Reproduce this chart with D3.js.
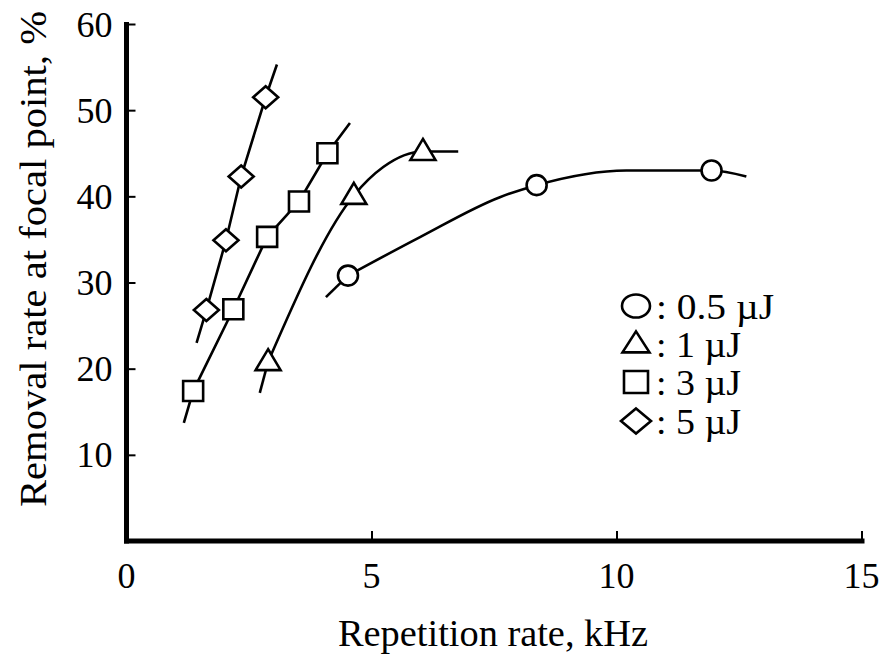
<!DOCTYPE html>
<html><head><meta charset="utf-8">
<script src="https://cdn.jsdelivr.net/npm/d3@7"></script>
<style>body{margin:0;background:#fff}text{font-family:"Liberation Serif","Times New Roman",serif;fill:#000}</style>
</head><body><svg id="c" width="890" height="657"></svg>
<script>
// ---- data ----
const xTicks = [0, 5, 10, 15];
const yTicks = [10, 20, 30, 40, 50, 60];
const seriesNames = ["0.5 µJ", "1 µJ", "3 µJ", "5 µJ"];
const seriesShapes = ["circle", "triangle", "square", "diamond"];
// measured points
const circleX = [4.52, 8.37, 11.94];
const circleY = [30.8, 41.3, 43.0];
const triangleX = [2.89, 4.64, 6.05];
const triangleY = [20.8, 40.1, 45.2];
const squareX = [1.36, 2.18, 2.87, 3.52, 4.10];
const squareY = [17.4, 26.9, 35.3, 39.4, 45.0];
const diamondX = [1.63, 2.03, 2.34, 2.84];
const diamondY = [26.8, 34.9, 42.3, 51.5];
// guide (fitted) curves: short lead-in stubs + main curves
const circleStubX = [4.07, 4.52];
const circleStubY = [28.3, 30.8];
const circleFitX = [4.52, 6.0, 7.62, 8.37, 10.2, 11.94, 12.65];
const circleFitY = [30.8, 35.3, 39.9, 41.3, 43.0, 43.0, 42.3];
const triangleStubX = [2.72, 2.89];
const triangleStubY = [17.2, 20.8];
const triangleFitX = [2.89, 4.64, 5.24, 6.05, 6.77];
const triangleFitY = [20.8, 40.1, 43.4, 45.2, 45.2];
const squareFitX = [1.17, 1.36, 2.18, 2.87, 3.52, 4.10, 4.56];
const squareFitY = [13.7, 17.4, 26.9, 35.3, 39.4, 45.0, 48.5];
const diamondFitX = [1.43, 1.63, 2.03, 2.34, 2.84, 3.07];
const diamondFitY = [23.0, 26.8, 34.9, 42.3, 51.5, 55.3];

const svg = d3.select("#c");
const x = d3.scaleLinear().domain([0, 15]).range([126.5, 861.5]);
const y = d3.scaleLinear().domain([0, 60]).range([541, 24]);

const zip = (a, b) => a.map((v, i) => [v, b[i]]);
const series = [
  {shape: "circle", pts: zip(circleX, circleY), stub: zip(circleStubX, circleStubY), fit: zip(circleFitX, circleFitY), curve: d3.curveMonotoneX},
  {shape: "triangle", pts: zip(triangleX, triangleY), stub: zip(triangleStubX, triangleStubY), fit: zip(triangleFitX, triangleFitY), curve: d3.curveMonotoneX},
  {shape: "square", pts: zip(squareX, squareY), stub: null, fit: zip(squareFitX, squareFitY), curve: d3.curveLinear},
  {shape: "diamond", pts: zip(diamondX, diamondY), stub: null, fit: zip(diamondFitX, diamondFitY), curve: d3.curveLinear}
];

// axes
const yAxis = d3.axisRight(y).tickValues(yTicks).tickSize(9).tickFormat("");
const gy = svg.append("g").attr("transform", `translate(${x(0)},0)`).call(yAxis);
gy.selectAll(".tick line").attr("stroke", "#000").attr("stroke-width", 2);
gy.select(".domain").remove();
const xAxis = d3.axisTop(x).tickValues(xTicks.filter(d => d > 0)).tickSize(10).tickFormat("");
const gx = svg.append("g").attr("transform", `translate(0,${y(0)})`).call(xAxis);
gx.selectAll(".tick line").attr("stroke", "#000").attr("stroke-width", 2);
gx.select(".domain").remove();
svg.append("line").attr("x1", x(0)).attr("x2", x(0)).attr("y1", y(60) - 2).attr("y2", y(0) + 2.5)
  .attr("stroke", "#000").attr("stroke-width", 5);
svg.append("line").attr("x1", x(0) - 2.5).attr("x2", x(15) + 3).attr("y1", y(0)).attr("y2", y(0))
  .attr("stroke", "#000").attr("stroke-width", 5);

// tick labels
svg.append("g").selectAll("text").data(yTicks).join("text")
  .attr("x", x(0) - 14).attr("y", d => y(d)).attr("dy", "0.35em")
  .attr("text-anchor", "end").attr("font-size", 36).text(d => d);
svg.append("g").selectAll("text").data(xTicks).join("text")
  .attr("x", d => x(d)).attr("y", y(0) + 47)
  .attr("text-anchor", "middle").attr("font-size", 36).text(d => d);

// titles
svg.append("text").attr("x", 493).attr("y", 646).attr("text-anchor", "middle")
  .attr("font-size", 37).attr("textLength", 310).attr("lengthAdjust", "spacingAndGlyphs")
  .text("Repetition rate, kHz");
svg.append("text").attr("transform", "translate(46,259) rotate(-90)").attr("text-anchor", "middle")
  .attr("font-size", 37).attr("textLength", 496).attr("lengthAdjust", "spacingAndGlyphs")
  .text("Removal rate at focal point, %");

// shapes
function shapePath(shape, s) {
  if (shape === "circle") { const rx = s.rx, ry = s.ry;
    return `M${-rx},0A${rx},${ry} 0 1,0 ${rx},0A${rx},${ry} 0 1,0 ${-rx},0Z`; }
  if (shape === "square") { const w = s.sw / 2, h = s.sh / 2; return `M${-w},${-h}H${w}V${h}H${-w}Z`; }
  if (shape === "diamond") { const w = s.dw / 2, h = s.dh / 2; return `M0,${-h}L${w},0L0,${h}L${-w},0Z`; }
  const w = s.tw / 2; return `M0,${-s.th * 0.6}L${w},${s.th * 0.4}L${-w},${s.th * 0.4}Z`;
}
const mk = {rx: 10, ry: 10, sw: 20, sh: 20, dw: 25, dh: 22, tw: 25, th: 21};
const lk = {rx: 14, ry: 11.5, sw: 24, sh: 22, dw: 30, dh: 25, tw: 27, th: 21};

const line = d3.line().x(d => x(d[0])).y(d => y(d[1]));
series.forEach(s => {
  if (s.stub) svg.append("path").attr("d", line.curve(d3.curveLinear)(s.stub))
    .attr("fill", "none").attr("stroke", "#000").attr("stroke-width", 2.6);
  svg.append("path").attr("d", line.curve(s.curve)(s.fit))
    .attr("fill", "none").attr("stroke", "#000").attr("stroke-width", 2.6);
});
series.forEach(s => {
  svg.append("g").selectAll("path").data(s.pts).join("path")
    .attr("transform", d => `translate(${x(d[0])},${y(d[1])})`)
    .attr("d", shapePath(s.shape, mk))
    .attr("fill", "#fff").attr("stroke", "#000").attr("stroke-width", 2.6);
});

// legend
const legY = [306, 344, 382, 421];
const legLen = [118, 85, 85, 85];
const lg = svg.append("g");
seriesNames.forEach((n, i) => {
  lg.append("path").attr("transform", `translate(636,${legY[i]})`)
    .attr("d", shapePath(seriesShapes[i], lk))
    .attr("fill", "#fff").attr("stroke", "#000").attr("stroke-width", 2.6);
  lg.append("text").attr("x", 656).attr("y", legY[i]).attr("dy", "0.35em")
    .attr("font-size", 36).attr("textLength", legLen[i]).attr("lengthAdjust", "spacingAndGlyphs")
    .text(": " + n);
});
</script>
</body></html>
